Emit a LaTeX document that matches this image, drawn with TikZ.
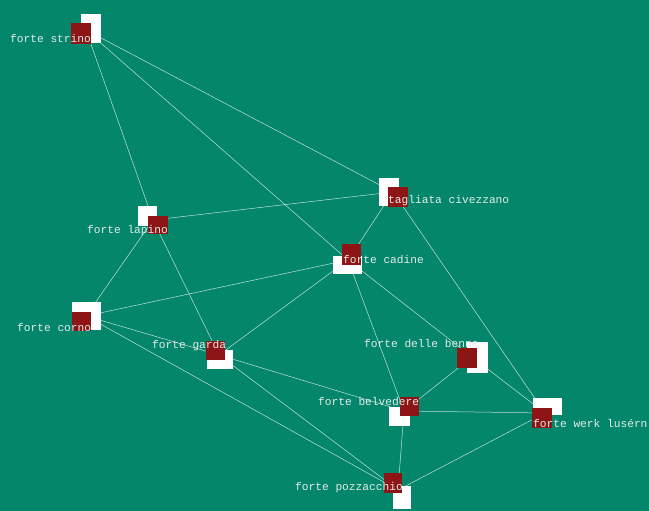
\documentclass[tikz,border=0pt]{standalone}
\usepackage{fontspec}
\setmonofont{Liberation Mono}
\usepackage{tikz}

\definecolor{bgteal}{HTML}{04866B}
\definecolor{fortred}{HTML}{8E1515}
\definecolor{labelgrey}{HTML}{E2ECE8}

\begin{document}
\begin{tikzpicture}[x=1pt, y=-1pt,
	every node/.style={font=\ttfamily\fontsize{11.2}{12}\selectfont},
	link/.style={white, line width=0.5pt, opacity=0.75},
	fortlabel/.style={labelgrey, anchor=west, inner sep=0pt}]
	\fill[bgteal] (0,0) rectangle (649,511);
	\useasboundingbox (0,0) rectangle (649,511);
	% fort positions
	\coordinate (strino) at (86,30);
	\coordinate (civezzano) at (393,192);
	\coordinate (lapino) at (153,220);
	\coordinate (cadine) at (348,260);
	\coordinate (corno) at (86,316);
	\coordinate (garda) at (219,355);
	\coordinate (benne) at (472,357);
	\coordinate (belvedere) at (404,411);
	\coordinate (lusern) at (545,413);
	\coordinate (pozzacchio) at (398,490);
	% links
	\draw[link] (strino) -- (lapino);
	\draw[link] (strino) -- (civezzano);
	\draw[link] (strino) -- (cadine);
	\draw[link] (civezzano) -- (lapino);
	\draw[link] (civezzano) -- (cadine);
	\draw[link] (civezzano) -- (lusern);
	\draw[link] (lapino) -- (corno);
	\draw[link] (lapino) -- (garda);
	\draw[link] (cadine) -- (corno);
	\draw[link] (cadine) -- (garda);
	\draw[link] (cadine) -- (belvedere);
	\draw[link] (cadine) -- (benne);
	\draw[link] (corno) -- (garda);
	\draw[link] (corno) -- (pozzacchio);
	\draw[link] (garda) -- (belvedere);
	\draw[link] (garda) -- (pozzacchio);
	\draw[link] (benne) -- (belvedere);
	\draw[link] (benne) -- (lusern);
	\draw[link] (belvedere) -- (lusern);
	\draw[link] (belvedere) -- (pozzacchio);
	\draw[link] (lusern) -- (pozzacchio);
	% squares
	\fill[white] (81,14) rectangle (101,43);
	\fill[fortred] (71,23) rectangle (91,44);
	\fill[white] (379,178) rectangle (399,206);
	\fill[fortred] (388,187) rectangle (408,207);
	\fill[white] (138,206) rectangle (157,226);
	\fill[fortred] (148,216) rectangle (168,234);
	\fill[white] (333,256) rectangle (362,274);
	\fill[fortred] (342,244) rectangle (361,265);
	\fill[white] (72,302) rectangle (101,330);
	\fill[fortred] (72,312) rectangle (91,331);
	\fill[white] (207,350) rectangle (233,369);
	\fill[fortred] (206,341) rectangle (225,360);
	\fill[white] (467,342) rectangle (488,373);
	\fill[fortred] (457,348) rectangle (477,368);
	\fill[white] (389,407) rectangle (410,426);
	\fill[fortred] (400,397) rectangle (419,416);
	\fill[white] (533,398) rectangle (562,415);
	\fill[fortred] (532,408) rectangle (552,428);
	\fill[white] (393,486) rectangle (411,509);
	\fill[fortred] (384,473) rectangle (402,493);
	% labels
	\node[fortlabel] (strino-l) at (10,38) {forte strino};
	\node[fortlabel] (civezzano-l) at (388,201) {tagliata civezzano};
	\node[fortlabel] (lapino-l) at (87,231) {forte lapino};
	\node[fortlabel] (cadine-l) at (343,260) {forte cadine};
	\node[fortlabel] (corno-l) at (17,327) {forte corno};
	\node[fortlabel] (garda-l) at (152,346) {forte garda};
	\node[fortlabel] (benne-l) at (364,344) {forte delle benne};
	\node[fortlabel] (belvedere-l) at (318,402) {forte belvedere};
	\node[fortlabel] (lusern-l) at (533,423) {forte werk lusérn};
	\node[fortlabel] (pozzacchio-l) at (295,488) {forte pozzacchio};
\end{tikzpicture}
\end{document}
